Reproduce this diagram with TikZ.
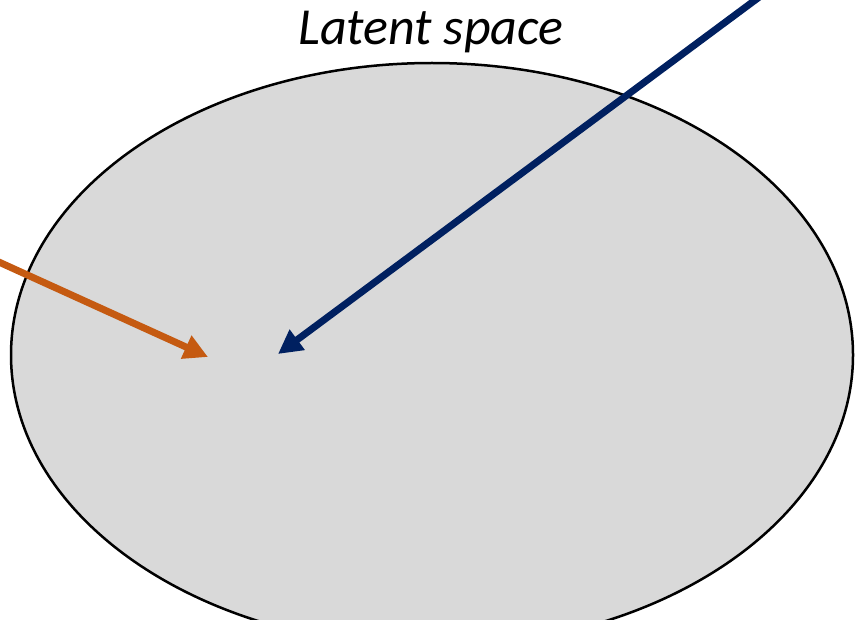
\documentclass[tikz,border=0pt]{standalone}
\usepackage{fontspec}
\setmainfont{Carlito}
\usetikzlibrary{arrows.meta,shapes.geometric}
\definecolor{ellfill}{HTML}{D9D9D9}
\definecolor{orangearr}{HTML}{C55A11}
\definecolor{bluearr}{HTML}{002060}
\tikzset{
  arr/.style={line width=7pt,-{Triangle[length=24pt,width=24pt]}},
  title/.style={font=\fontsize{52}{62}\selectfont\itshape, anchor=base, inner sep=0pt}
}
\begin{document}
\begin{tikzpicture}[x=1pt,y=-1pt]
\useasboundingbox (0,0) rectangle (858,620);
\clip (0,0) rectangle (858,620);
\node[draw=black, line width=2.5pt, fill=ellfill, ellipse, minimum width=842pt, minimum height=584pt, inner sep=0pt] (space) at (432,355) {};
\node[title] (lbl) at (431,45) {Latent space};
\coordinate (ostart) at (-10,258);
\coordinate (otip) at (208,357);
\coordinate (bstart) at (762,-5);
\coordinate (btip) at (278,354);
\draw[arr, orangearr] (ostart) -- (otip);
\draw[arr, bluearr] (bstart) -- (btip);
\end{tikzpicture}
\end{document}
